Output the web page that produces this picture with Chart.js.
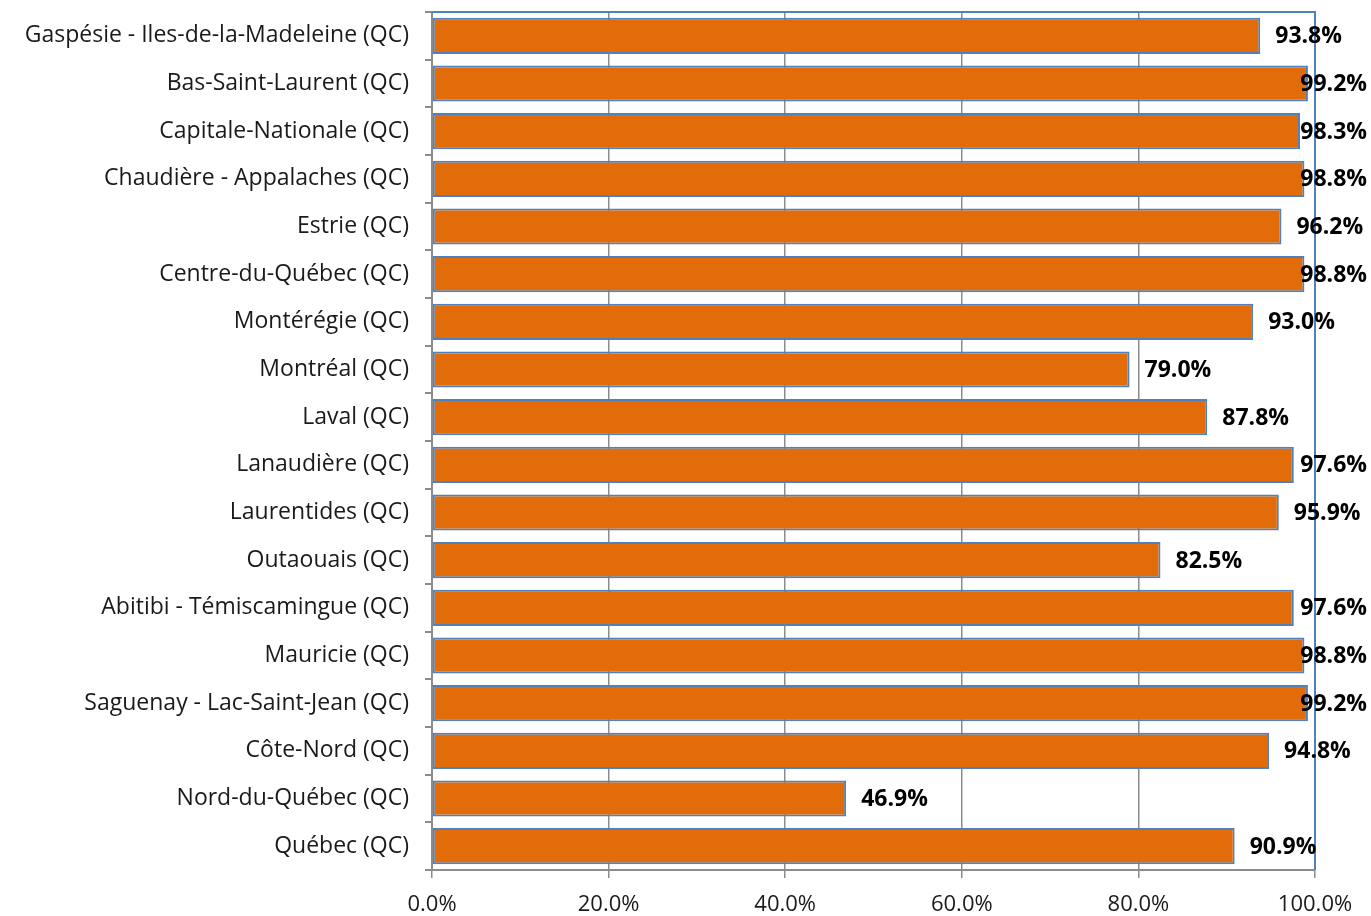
<!DOCTYPE html>
<html>
<head>
<meta charset="utf-8">
<script src="https://cdn.jsdelivr.net/npm/chart.js@4/dist/chart.umd.min.js"></script>
<style>
  html, body { margin: 0; padding: 0; background: #fff; }
  #wrap { width: 1371px; height: 916px; }
</style>
</head>
<body>
<div id="wrap"><canvas id="regionChart"></canvas></div>
<script>
// Regions, top to bottom as shown
const regions = [
    'Gaspésie - Iles-de-la-Madeleine (QC)',
    'Bas-Saint-Laurent (QC)',
    'Capitale-Nationale (QC)',
    'Chaudière - Appalaches (QC)',
    'Estrie (QC)',
    'Centre-du-Québec (QC)',
    'Montérégie (QC)',
    'Montréal (QC)',
    'Laval (QC)',
    'Lanaudière (QC)',
    'Laurentides (QC)',
    'Outaouais (QC)',
    'Abitibi - Témiscamingue (QC)',
    'Mauricie (QC)',
    'Saguenay - Lac-Saint-Jean (QC)',
    'Côte-Nord (QC)',
    'Nord-du-Québec (QC)',
    'Québec (QC)'
];

// Percent values
const shares = [93.8, 99.2, 98.3, 98.8, 96.2, 98.8, 93.0, 79.0, 87.8, 97.6, 95.9, 82.5, 97.6, 98.8, 99.2, 94.8, 46.9, 90.9];

// X axis ticks
const xTicks = [0, 20, 40, 60, 80, 100];

const FONT = '"Open Sans", Lato, sans-serif';

// Blue frame around the plot area, drawn under the bars
const plotFrame = {
    id: 'plotFrame',
    beforeDatasetsDraw(chart) {
        const { ctx, chartArea: a } = chart;
        ctx.save();
        ctx.strokeStyle = '#4f81bd';
        ctx.lineWidth = 2;
        ctx.beginPath();
        ctx.moveTo(a.left, a.top);
        ctx.lineTo(a.right, a.top);
        ctx.lineTo(a.right, a.bottom);
        ctx.stroke();
        ctx.restore();
    }
};

// Value labels past the bar end, pulled back in when they would run off the canvas
const valueLabels = {
    id: 'valueLabels',
    afterDatasetsDraw(chart) {
        const { ctx } = chart;
        const meta = chart.getDatasetMeta(0);
        const maxRight = chart.width - 4;
        ctx.save();
        ctx.font = 'bold 23px ' + FONT;
        ctx.fillStyle = '#000';
        ctx.textBaseline = 'middle';
        ctx.textAlign = 'left';
        meta.data.forEach((bar, i) => {
            const text = shares[i].toFixed(1) + '%';
            const w = ctx.measureText(text).width;
            const x = Math.min(bar.x + 15, maxRight - w);
            ctx.fillText(text, x, bar.y + 1);
        });
        ctx.restore();
    }
};

const ctx = document.getElementById('regionChart').getContext('2d');

new Chart(ctx, {
    type: 'bar',
    data: {
        labels: regions,
        datasets: [{
            data: shares,
            backgroundColor: '#e36c0a',
            borderColor: '#4f81bd',
            borderWidth: 2,
            borderSkipped: false,
            categoryPercentage: 1,
            barPercentage: 0.76
        }]
    },
    options: {
        indexAxis: 'y',
        responsive: true,
        maintainAspectRatio: false,
        animation: false,
        layout: { padding: { top: 12, right: 56, left: 0, bottom: 0 } },
        plugins: {
            legend: { display: false },
            tooltip: { enabled: false }
        },
        scales: {
            x: {
                min: 0,
                max: 100,
                afterBuildTicks: (scale) => { scale.ticks = xTicks.map(v => ({ value: v })); },
                afterFit: (scale) => {
                    scale.height = 46;
                    scale.paddingLeft = 0;
                    scale.paddingRight = 0;
                },
                grid: {
                    color: '#8c8c8c',
                    lineWidth: 1.5,
                    tickLength: 8,
                    drawTicks: true
                },
                border: { color: '#8c8c8c', width: 2 },
                ticks: {
                    padding: 14,
                    color: '#1a1a1a',
                    maxRotation: 0,
                    font: { family: FONT, size: 22 },
                    callback: (v) => v.toFixed(1) + '%'
                }
            },
            y: {
                afterFit: (scale) => {
                    scale.width = 432;
                    scale.paddingTop = 0;
                    scale.paddingBottom = 0;
                },
                grid: {
                    drawOnChartArea: false,
                    color: '#8c8c8c',
                    lineWidth: 2,
                    tickLength: 7,
                    offset: true
                },
                border: { color: '#8c8c8c', width: 2 },
                ticks: {
                    padding: 16,
                    color: '#1a1a1a',
                    autoSkip: false,
                    font: { family: FONT, size: 23 }
                }
            }
        }
    },
    plugins: [plotFrame, valueLabels]
});
</script>
</body>
</html>
